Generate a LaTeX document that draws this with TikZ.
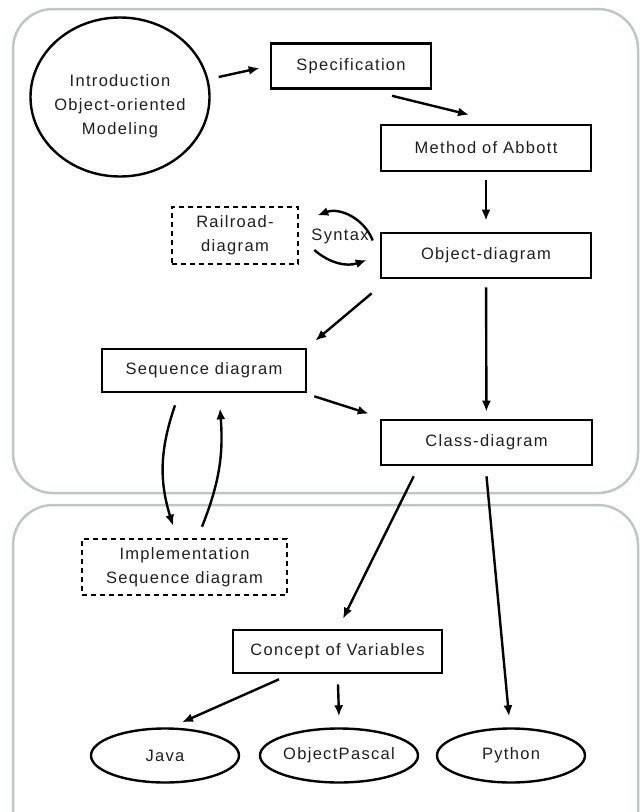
\documentclass[tikz,border=0pt]{standalone}
\usepackage{fontspec}
\setmainfont{Liberation Sans}[LetterSpace=8]
\usetikzlibrary{arrows.meta,shapes.geometric,positioning}
\definecolor{panelgray}{HTML}{BCC8C5}
\definecolor{textgray}{HTML}{1E1E1E}

\begin{document}
\begin{tikzpicture}[
x=1pt, y=-1pt,
squarednode/.style={rectangle, draw, line width=2.6pt, minimum height=45pt, inner sep=0pt},
dashednode/.style={rectangle, draw, line width=2.6pt, dash pattern=on 5pt off 4pt, inner sep=0pt, align=center},
ovalnode/.style={ellipse, draw, line width=2.4pt, minimum width=148pt, minimum height=54pt, inner sep=0pt},
panel/.style={draw=panelgray, line width=2.5pt, rounded corners=40pt},
link/.style={line width=2.4pt, arrows={-Latex[length=11pt,width=9pt]}},
every node/.append style={font=\fontsize{16.5}{24}\selectfont, text=textgray},
every label/.append style={align=center}]
\useasboundingbox (0,0) rectangle (640,812);
% Panels
\draw[panel] (13,9) rectangle (638,493);
\draw[panel] (13,505) rectangle (638,860);
% Nodes
\node[ellipse, draw, line width=2.4pt, minimum width=179pt, minimum height=159pt,
  label={[yshift=-9pt]center:Introduction\\Object-oriented\\Modeling}] (intro) at (120,97) {};
\node[squarednode, minimum width=160pt] (spec) at (351,66) {Specification};
\node[squarednode, minimum width=210pt, minimum height=46pt] (abbott) at (486,148) {Method of Abbott};
\node[dashednode, minimum width=126pt, minimum height=57pt] (rail) at (235,235.5) {Railroad-\\diagram};
\node (syntax) at (340,236) {Syntax};
\node[squarednode, minimum width=210pt] (objdia) at (486,255.5) {Object-diagram};
\node[squarednode, minimum width=204pt, minimum height=43pt] (seqdia) at (204,370.5) {Sequence diagram};
\node[squarednode, minimum width=211pt] (classdia) at (486.5,442.5) {Class-diagram};
\node[dashednode, minimum width=205pt, minimum height=56pt] (impl) at (184.5,567) {Implementation\\Sequence diagram};
\node[squarednode, minimum width=209pt, minimum height=43pt] (concept) at (337.5,651.5) {Concept of Variables};
\node[ovalnode] (java) at (165,755.5) {Java};
\node[ovalnode] (pascal) at (339,755.5) {ObjectPascal};
\node[ovalnode] (python) at (511,755.5) {Python};
% Lines
\draw[link] ([xshift=8pt,yshift=20pt]intro.east) -- ([xshift=-10pt,yshift=-2pt]spec.west);
\draw[link] ([xshift=41pt,yshift=-6pt]spec.south) -- ([xshift=-17pt,yshift=9pt]abbott.north);
\draw[link, shorten <=8pt, shorten >=11pt] (abbott) -- (objdia);
\draw[link] ([xshift=-7pt,yshift=15pt]objdia.west) to[bend right=45] ([xshift=18pt,yshift=20pt]rail.east);
\draw[link] ([xshift=15pt,yshift=-14.5pt]rail.east) to[bend right=30] ([xshift=-13pt,yshift=-4.5pt]objdia.west);
\draw[link] ([xshift=-8pt,yshift=-14pt]objdia.south west) -- ([xshift=8pt,yshift=7pt]seqdia.north east);
\draw[link, shorten <=8pt, shorten >=7pt] (objdia) -- (classdia);
\draw[link] ([xshift=7pt,yshift=-3pt]seqdia.south east) -- ([xshift=-11pt,yshift=5pt]classdia.north west);
\draw[link] ([xshift=-29pt,yshift=-12pt]seqdia.south) to[bend right=18] ([xshift=-11.5pt,yshift=12pt]impl.north);
\draw[link] ([xshift=17.5pt,yshift=11pt]impl.north) to[bend right=13] ([xshift=16pt,yshift=-15pt]seqdia.south);
\draw[link] ([xshift=34pt,yshift=-10pt]classdia.south west) -- ([xshift=5.5pt,yshift=10pt]concept.north);
\draw[link] ([yshift=-10pt]classdia.south) -- ([xshift=-2pt,yshift=11pt]python.north);
\draw[link] ([xshift=-58.5pt,yshift=-5pt]concept.south) -- ([xshift=17pt,yshift=5pt]java.north);
\draw[link] ([xshift=0.5pt,yshift=-10pt]concept.south) -- ([yshift=11pt]pascal.north);
\end{tikzpicture}
\end{document}
